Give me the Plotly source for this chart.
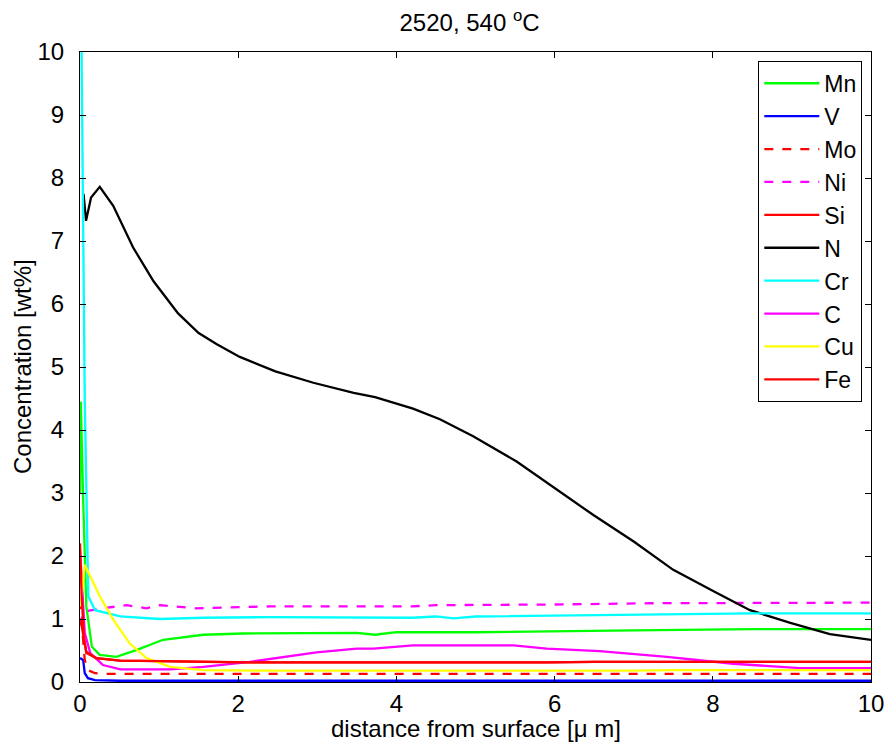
import plotly.graph_objects as go

# ---- data ----
mn_x = [0.0, 0.01, 0.04, 0.08, 0.15, 0.25, 0.46, 0.72, 1.05, 1.56, 2.06, 2.5, 3.5, 3.73, 4.0, 5.0, 6.0, 7.0, 8.5, 10.0]
mn_y = [3.0, 4.45, 2.9, 1.2, 0.56, 0.43, 0.40, 0.51, 0.67, 0.75, 0.77, 0.77, 0.78, 0.75, 0.79, 0.79, 0.80, 0.82, 0.84, 0.84]

v_x = [0.0, 0.04, 0.06, 0.1, 0.19, 0.5, 2.0, 5.0, 8.0, 10.0]
v_y = [0.38, 0.35, 0.14, 0.06, 0.03, 0.02, 0.02, 0.02, 0.02, 0.02]

mo_x = [0.0, 0.02, 0.06, 0.1, 0.19, 0.3, 1.0, 3.0, 6.0, 8.0, 10.0]
mo_y = [1.3, 1.0, 0.35, 0.19, 0.14, 0.13, 0.13, 0.13, 0.13, 0.13, 0.13]

ni_x = [0.0, 0.04, 0.06, 0.29, 0.59, 0.84, 1.01, 1.47, 2.4, 4.2, 4.5, 6.0, 7.2, 8.5, 10.0]
ni_y = [0.9, 1.09, 1.12, 1.17, 1.22, 1.17, 1.22, 1.17, 1.20, 1.20, 1.22, 1.23, 1.25, 1.26, 1.26]

si_x = [0.0, 0.02, 0.08, 0.21, 0.51, 1.0, 2.4, 5.9, 6.5, 8.0, 10.0]
si_y = [1.0, 0.9, 0.46, 0.38, 0.34, 0.33, 0.31, 0.31, 0.32, 0.32, 0.32]

n_x = [0.045, 0.076, 0.14, 0.25, 0.42, 0.67, 0.93, 1.24, 1.50, 1.73, 2.02, 2.47, 2.95, 3.46, 3.73, 4.21, 4.55,
       4.97, 5.52, 6.03, 6.49, 7.00, 7.50, 8.01, 8.47, 8.98, 9.48, 10.0]
n_y = [7.75, 7.32, 7.69, 7.86, 7.56, 6.90, 6.36, 5.85, 5.54, 5.36, 5.16, 4.93, 4.75, 4.59, 4.52, 4.34, 4.17,
       3.90, 3.50, 3.05, 2.65, 2.23, 1.78, 1.44, 1.14, 0.94, 0.76, 0.67]

cr_x = [0.0, 0.02, 0.06, 0.105, 0.19, 0.51, 1.01, 1.56, 2.4, 4.2, 4.5, 4.72, 5.0, 7.2, 8.5, 10.0]
cr_y = [11.0, 10.0, 4.5, 1.36, 1.14, 1.04, 1.00, 1.02, 1.03, 1.02, 1.04, 1.01, 1.04, 1.07, 1.09, 1.09]

c_x = [0.0, 0.02, 0.06, 0.13, 0.29, 0.51, 1.14, 1.56, 2.15, 2.99, 3.5, 3.71, 4.21, 5.48, 5.9, 6.57, 7.21,
       7.42, 8.26, 9.1, 10.0]
c_y = [2.1, 1.6, 0.78, 0.46, 0.27, 0.20, 0.20, 0.24, 0.32, 0.47, 0.53, 0.53, 0.58, 0.58, 0.53, 0.49, 0.42,
       0.40, 0.29, 0.22, 0.22]

cu_x = [0.0, 0.02, 0.06, 0.13, 0.25, 0.42, 0.63, 0.84, 1.14, 1.56, 2.4, 7.0, 7.5, 10.0]
cu_y = [1.2, 1.36, 1.86, 1.67, 1.36, 0.99, 0.61, 0.38, 0.24, 0.19, 0.18, 0.18, 0.19, 0.19]

fe_x = [0.0, 0.02, 0.05, 0.08, 0.2, 0.5, 1.0, 2.0, 5.9, 6.5, 8.0, 10.0]
fe_y = [2.2, 1.4, 0.7, 0.48, 0.38, 0.34, 0.33, 0.31, 0.31, 0.32, 0.32, 0.32]

series = [
    ("Mn", mn_x, mn_y, "#00ff00", "solid"),
    ("V", v_x, v_y, "#0000ff", "solid"),
    ("Mo", mo_x, mo_y, "#ff0000", "dash"),
    ("Ni", ni_x, ni_y, "#ff00ff", "dash"),
    ("Si", si_x, si_y, "#ff0000", "solid"),
    ("N", n_x, n_y, "#000000", "solid"),
    ("Cr", cr_x, cr_y, "#00ffff", "solid"),
    ("C", c_x, c_y, "#ff00ff", "solid"),
    ("Cu", cu_x, cu_y, "#ffff00", "solid"),
    ("Fe", fe_x, fe_y, "#ff0000", "solid"),
]

x_ticks = [0, 2, 4, 6, 8, 10]
y_ticks = [0, 1, 2, 3, 4, 5, 6, 7, 8, 9, 10]

FONT = "Liberation Sans, Arial, sans-serif"
TS = 24

fig = go.Figure()
for name, xs, ys, col, dash in series:
    fig.add_trace(go.Scatter(
        x=xs, y=ys, name=name, mode="lines", legendgroup=name,
        line=dict(color=col, width=2.3, dash=dash),
    ))

axis_common = dict(
    showline=True, linecolor="black", linewidth=1, mirror="ticks",
    ticks="inside", ticklen=6, tickcolor="black", tickwidth=1,
    showgrid=False, zeroline=False, automargin=False,
    tickfont=dict(family=FONT, size=TS, color="black"),
)

fig.update_layout(
    width=886, height=746,
    margin=dict(l=80, r=15, t=52, b=64),
    paper_bgcolor="white", plot_bgcolor="white",
    title=dict(text="2520, 540 <sup>o</sup>C", x=0.530, xanchor="center", y=0.97, yanchor="middle",
               font=dict(family=FONT, size=TS, color="black")),
    xaxis=dict(range=[0, 10], tickvals=x_ticks, ticktext=[str(t) for t in x_ticks], **axis_common),
    yaxis=dict(range=[0, 10], tickvals=y_ticks, ticktext=[str(t) for t in y_ticks],
               ticklabelstandoff=10, **axis_common),
    legend=dict(x=0.989, xanchor="right", y=0.986, yanchor="top",
                bgcolor="white", bordercolor="black", borderwidth=1,
                font=dict(family=FONT, size=23, color="black"),
                tracegroupgap=1, traceorder="normal", itemwidth=55),
    showlegend=True,
    annotations=[
        dict(text="distance from surface [\u03bc m]", xref="paper", yref="paper",
             x=0.5, y=-(728 - 682) / 630, xanchor="center", yanchor="middle", showarrow=False,
             font=dict(family=FONT, size=TS, color="black")),
        dict(text="Concentration [wt%]", xref="paper", yref="paper", textangle=-90,
             x=(22 - 80) / 791, y=0.5, xanchor="center", yanchor="middle", showarrow=False,
             font=dict(family=FONT, size=TS, color="black")),
    ],
)

fig.write_html("out.html", config={"displayModeBar": False},
               post_script="document.body.style.margin='0';document.body.style.padding='0';")
